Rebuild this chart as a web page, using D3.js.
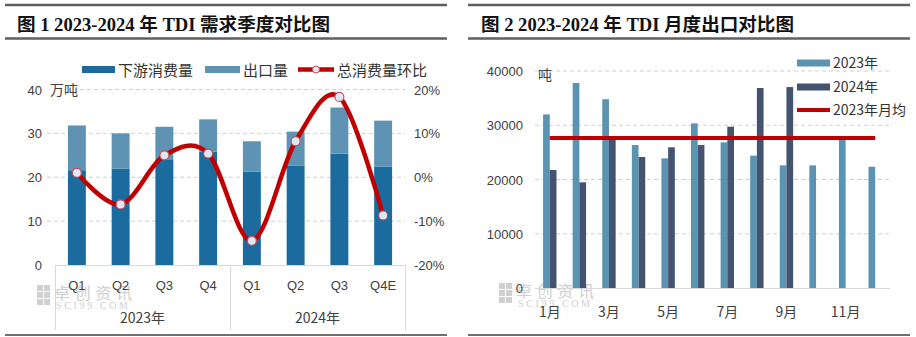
<!DOCTYPE html>
<html><head><meta charset="utf-8">
<script src="https://cdn.jsdelivr.net/npm/d3@7"></script>
<style>body{margin:0;background:#fff}svg{display:block}</style>
</head><body>
<svg id="c" width="916" height="337"></svg>
<script>
// ---------- data ----------
const quarters = ["Q1","Q2","Q3","Q4","Q1","Q2","Q3","Q4E"];
const yearGroups = ["2023年","2024年"];
const downstream = [21.6,22.0,24.1,25.8,21.3,22.6,25.4,22.4];   // 万吨
const exportQ    = [10.2, 8.0, 7.4, 7.4, 6.9, 7.8,10.5,10.5];   // 万吨
const momPct     = [1.0,-6.2,5.0,5.4,-14.5,8.2,18.3,-8.7];      // %
const leftTicks  = [0,10,20,30,40];
const rightTicks = [-20,-10,0,10,20];

const months = ["1月","2月","3月","4月","5月","6月","7月","8月","9月","10月","11月","12月"];
const exp2023 = [32000,37800,34800,26350,23900,30350,26850,24400,22600,22600,27600,22350];
const exp2024 = [21750,19480,27600,24150,25930,26350,29730,36860,37040,null,null,null];
const avg2023 = 27630;
const monthTicks = [0,10000,20000,30000,40000];
const monthLabels = ["1月","3月","5月","7月","9月","11月"];

// ---------- styles ----------
const C_DARK="#1b6b9e", C_LIGHT="#5e93b3", C_RED="#c00000";
const C_23="#5b93b2", C_24="#435370";
const NUM="'Liberation Sans','Noto Sans CJK SC',sans-serif";
const CJK="'Noto Sans CJK SC',sans-serif";
const TITLE="'Liberation Serif','Noto Sans CJK SC',serif";
const svg=d3.select("#c");

function frame(x0,x1,title,tx){
  svg.append("line").attr("x1",x0).attr("x2",x1).attr("y1",5).attr("y2",5).attr("stroke","#5f5f5f").attr("stroke-width",2.5);
  svg.append("line").attr("x1",x0).attr("x2",x1).attr("y1",38.5).attr("y2",38.5).attr("stroke","#5f5f5f").attr("stroke-width",2.5);
  svg.append("line").attr("x1",x0).attr("x2",x1).attr("y1",335).attr("y2",335).attr("stroke","#404040").attr("stroke-width",1.5);
  svg.append("text").attr("x",tx).attr("y",31).attr("font-family",TITLE).attr("font-weight","bold")
    .attr("font-size",18).attr("fill","#111").attr("textLength",313).attr("lengthAdjust","spacingAndGlyphs").text(title);
}
function watermark(x,y){
  const g=svg.append("g").attr("fill","#c8c8c8").attr("opacity",0.85);
  [[0,0],[7,0],[0,7],[7,7],[0,14],[7,14]].forEach(([dx,dy])=>g.append("rect").attr("x",x+dx).attr("y",y+dy).attr("width",6).attr("height",6));
  g.append("text").attr("x",x+17).attr("y",y+14).attr("font-family",CJK).attr("font-size",16).attr("textLength",78).text("卓创资讯");
  g.append("text").attr("x",x+19).attr("y",y+24).attr("font-family","'Liberation Serif',serif").attr("font-size",10).attr("textLength",72).text("SCI99.COM");
}

// ================= LEFT CHART =================
frame(5,447,"图 1 2023-2024 年 TDI 需求季度对比图",17);
const idx=d3.range(quarters.length);
const xL=d3.scaleBand().domain(idx).range([55,405]);
const yL=d3.scaleLinear().domain([0,40]).range([265,89.5]);
const yR=d3.scaleLinear().domain([-20,20]).range([265,89.5]);
const barW=xL.step()*0.41;
const cx=i=>xL(i)+xL.bandwidth()/2;

// grid
svg.append("g").selectAll("line").data(leftTicks.filter(d=>d>0)).join("line")
  .attr("x1",d=>d===40?80:47).attr("x2",405).attr("y1",d=>yL(d)).attr("y2",d=>yL(d))
  .attr("stroke","#d0d0d0").attr("stroke-dasharray","4,3");
watermark(37,285);
// bars
svg.append("g").selectAll("rect").data(idx).join("rect")
  .attr("x",i=>cx(i)-barW/2).attr("width",barW)
  .attr("y",i=>yL(downstream[i])).attr("height",i=>yL(0)-yL(downstream[i])).attr("fill",C_DARK);
svg.append("g").selectAll("rect").data(idx).join("rect")
  .attr("x",i=>cx(i)-barW/2).attr("width",barW)
  .attr("y",i=>yL(downstream[i]+exportQ[i])).attr("height",i=>yL(downstream[i])-yL(downstream[i]+exportQ[i])).attr("fill",C_LIGHT);
// axis box
const ax=svg.append("g").attr("stroke","#d9d9d9").attr("stroke-width",1);
ax.append("line").attr("x1",55).attr("x2",405).attr("y1",265.5).attr("y2",265.5);
[55,230,405].forEach(x=>ax.append("line").attr("x1",x+0.5).attr("x2",x+0.5).attr("y1",265).attr("y2",330));
// line
const line=d3.line().x(i=>cx(i)).y(i=>yR(momPct[i])).curve(d3.curveCardinal.tension(0));
svg.append("path").datum(idx).attr("d",line).attr("fill","none").attr("stroke",C_RED).attr("stroke-width",4.5);
svg.append("g").selectAll("circle").data(idx).join("circle")
  .attr("cx",i=>cx(i)).attr("cy",i=>yR(momPct[i])).attr("r",4.5)
  .attr("fill","#dce8f6").attr("stroke","#c0505a").attr("stroke-width",1.2);
// tick labels
svg.append("g").selectAll("text").data(leftTicks).join("text")
  .attr("x",42).attr("y",d=>yL(d)+5).attr("text-anchor","end").attr("font-family",NUM).attr("font-size",13).attr("fill","#404040").text(d=>d);
svg.append("text").attr("x",50).attr("y",yL(40)+5).attr("font-family",CJK).attr("font-size",14).attr("fill","#404040").text("万吨");
svg.append("g").selectAll("text").data(rightTicks).join("text")
  .attr("x",414).attr("y",d=>yR(d)+5).attr("font-family",NUM).attr("font-size",13).attr("fill","#404040").text(d=>d+"%");
svg.append("g").selectAll("text").data(idx).join("text")
  .attr("x",i=>cx(i)).attr("y",290).attr("text-anchor","middle").attr("font-family",NUM).attr("font-size",13).attr("fill","#404040").text(i=>quarters[i]);
svg.append("g").selectAll("text").data(yearGroups).join("text")
  .attr("x",(d,i)=>(cx(i*4)+cx(i*4+3))/2).attr("y",323).attr("text-anchor","middle").attr("font-family",CJK).attr("font-size",14).attr("fill","#404040").text(d=>d);
// legend
const lg=svg.append("g");
lg.append("rect").attr("x",82).attr("y",66).attr("width",33).attr("height",7).attr("fill",C_DARK);
lg.append("text").attr("x",118).attr("y",76).attr("font-family",CJK).attr("font-size",15).attr("fill","#333").text("下游消费量");
lg.append("rect").attr("x",205).attr("y",66).attr("width",35).attr("height",7).attr("fill",C_LIGHT);
lg.append("text").attr("x",243).attr("y",76).attr("font-family",CJK).attr("font-size",15).attr("fill","#333").text("出口量");
lg.append("line").attr("x1",298).attr("x2",334).attr("y1",69.5).attr("y2",69.5).attr("stroke",C_RED).attr("stroke-width",4.5);
lg.append("circle").attr("cx",316).attr("cy",69.5).attr("r",3.5).attr("fill","#dce8f6").attr("stroke","#c0505a");
lg.append("text").attr("x",337).attr("y",76).attr("font-family",CJK).attr("font-size",15).attr("fill","#333").text("总消费量环比");

// ================= RIGHT CHART =================
frame(468,910,"图 2 2023-2024 年 TDI 月度出口对比图",481);
const xM=d3.scaleBand().domain(months).range([535,890]);
const yM=d3.scaleLinear().domain([0,40000]).range([288,71]);
const mw=6.7;
const mc=m=>xM(m)+xM.bandwidth()/2;
svg.append("g").selectAll("line").data(monthTicks.filter(d=>d>0)).join("line")
  .attr("x1",535).attr("x2",890).attr("y1",d=>yM(d)).attr("y2",d=>yM(d))
  .attr("stroke","#d0d0d0").attr("stroke-dasharray","4,3");
watermark(499,283);
svg.append("g").selectAll("rect").data(months).join("rect")
  .attr("x",m=>mc(m)-mw).attr("width",mw)
  .attr("y",(m,i)=>yM(exp2023[i])).attr("height",(m,i)=>yM(0)-yM(exp2023[i])).attr("fill",C_23);
svg.append("g").selectAll("rect").data(months.filter((m,i)=>exp2024[i]!=null)).join("rect")
  .attr("x",m=>mc(m)).attr("width",mw)
  .attr("y",(m,i)=>yM(exp2024[i])).attr("height",(m,i)=>yM(0)-yM(exp2024[i])).attr("fill",C_24);
svg.append("line").attr("x1",535).attr("x2",890).attr("y1",288.5).attr("y2",288.5).attr("stroke","#d9d9d9");
svg.append("path").datum(months).attr("d",d3.line().x(m=>mc(m)).y(()=>yM(avg2023)))
  .attr("fill","none").attr("stroke",C_RED).attr("stroke-width",4);
svg.append("g").selectAll("text").data(monthTicks).join("text")
  .attr("x",523).attr("y",d=>yM(d)+5).attr("text-anchor","end").attr("font-family",NUM).attr("font-size",13).attr("fill","#404040").text(d=>d);
svg.append("text").attr("x",538).attr("y",80).attr("font-family",CJK).attr("font-size",14).attr("fill","#404040").text("吨");
svg.append("g").selectAll("text").data(monthLabels).join("text")
  .attr("x",m=>mc(m)).attr("y",317).attr("text-anchor","middle").attr("font-family",CJK).attr("font-size",14).attr("fill","#404040").text(m=>m);
const lg2=svg.append("g");
[["2023年",C_23,7,63],["2024年",C_24,7,87],["2023年月均",C_RED,4,110]].forEach(([t,c,h,y])=>{
  lg2.append("rect").attr("x",797).attr("y",y-h/2).attr("width",33).attr("height",h).attr("fill",c);
  lg2.append("text").attr("x",833).attr("y",y+5).attr("font-family",CJK).attr("font-size",14).attr("fill","#333").text(t);
});
</script>
</body></html>
